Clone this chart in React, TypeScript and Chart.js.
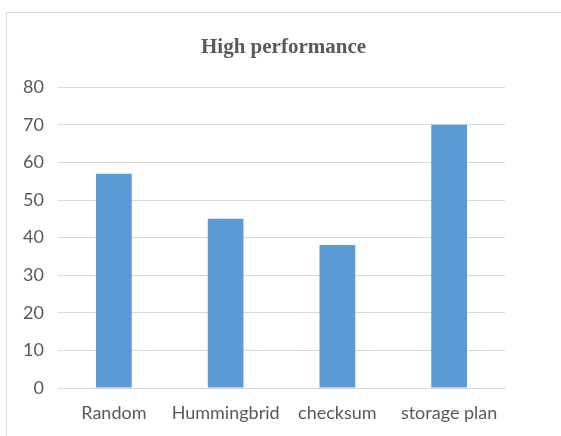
import React, { useEffect, useRef } from "react";
import { Chart, registerables } from "chart.js";

Chart.register(...registerables);

const categories = ["Random", "Hummingbrid", "checksum", "storage plan"];
const values = [57, 45, 38, 70];
const titleText = "High performance";

export default function App() {
  const ref = useRef<HTMLCanvasElement | null>(null);
  useEffect(() => {
    if (!ref.current) return;
    const chart = new Chart(ref.current, {
      type: "bar",
      data: {
        labels: categories,
        datasets: [
          {
            data: values,
            backgroundColor: "#5B9BD5",
            categoryPercentage: 1,
            barPercentage: 0.32,
          },
        ],
      },
      options: {
        animation: false,
        responsive: false,
        maintainAspectRatio: false,
        layout: { padding: { left: 6, right: 0, top: 0, bottom: 0 } },
        plugins: {
          legend: { display: false },
          tooltip: { enabled: false },
          title: {
            display: true,
            text: titleText,
            color: "#595959",
            font: { family: "'Liberation Serif', 'Times New Roman', serif", size: 21, weight: "bold" },
            padding: { top: 35, bottom: 27 },
          },
        },
        scales: {
          x: {
            grid: { display: false, drawTicks: false },
            border: { display: true, color: "#d9d9d9" },
            ticks: {
              color: "#595959",
              font: { family: "Lato, 'Open Sans', sans-serif", size: 18 },
              padding: 14,
              maxRotation: 0,
              autoSkip: false,
            },
            afterFit: (s: any) => {
              s.height = 48;
            },
          },
          y: {
            min: 0,
            max: 80,
            grid: { color: "#d9d9d9", drawTicks: false },
            border: { display: false },
            ticks: {
              stepSize: 10,
              color: "#595959",
              font: { family: "Lato, 'Open Sans', sans-serif", size: 18 },
              padding: 14,
            },
            afterFit: (s: any) => {
              s.width = 52;
            },
          },
          yRight: {
            position: "right",
            min: 0,
            max: 80,
            grid: { display: false, drawTicks: false },
            border: { display: false },
            ticks: { display: false },
            afterFit: (s: any) => {
              s.width = 56;
            },
          },
        },
      },
    });
    return () => chart.destroy();
  }, []);
  return (
    <div style={{ position: "fixed", left: 0, top: 0, width: 561, height: 436, background: "#fff" }}>
      <div
        style={{
          position: "absolute",
          left: 6,
          top: 12,
          width: 600,
          height: 500,
          borderLeft: "1px solid #d9d9d9",
          borderTop: "1px solid #d9d9d9",
        }}
      />
      <canvas ref={ref} width={561} height={436} style={{ position: "absolute", left: 0, top: 0 }} />
    </div>
  );
}
